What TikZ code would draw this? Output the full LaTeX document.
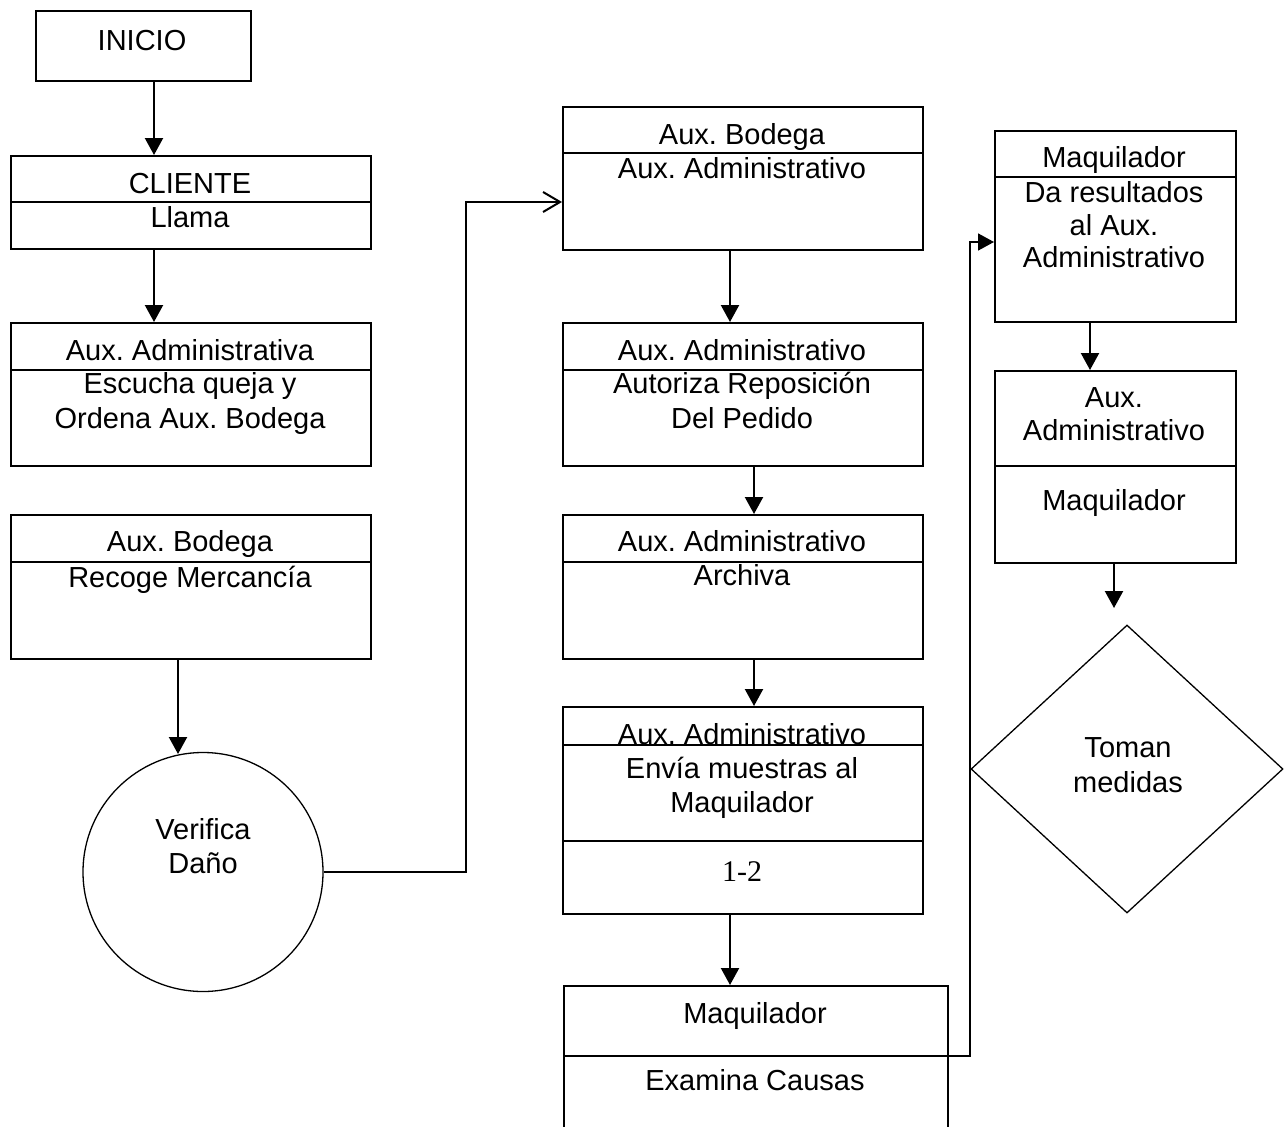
\documentclass[tikz,border=0pt]{standalone}
\usepackage{fontspec}
\setmainfont{Liberation Sans}
\newfontfamily\serifnum{Liberation Serif}
\usetikzlibrary{arrows.meta,shapes.geometric}
\frenchspacing
\begin{document}
\begin{tikzpicture}[x=1pt,y=-1pt,
  box/.style={draw, line width=1.6pt, rectangle, inner sep=0pt, anchor=north west},
  divl/.style={line width=1.6pt},
  txt/.style={anchor=base, inner sep=0pt, font=\fontsize{29}{34.5}\selectfont},
  arr/.style={line width=2.2pt, -{Triangle[width=18pt,length=17pt]}},
  conn/.style={line width=1.6pt},
  openarr/.style={line width=1.8pt, -{Straight Barb[length=17pt,width=20pt,line width=2pt]}}
]
\clip (0,0) rectangle (1285,1127);
\fill[white] (0,0) rectangle (1285,1127);

% ---------- left column ----------
\node[box, minimum width=215pt, minimum height=70pt] (ini) at (35,10) {};
\node[txt] (tini) at (142,50) {INICIO};

\node[box, minimum width=360pt, minimum height=93pt] (cli) at (10,155) {};
\draw[divl] (cli.west |- 0,202) -- (cli.east |- 0,202);
\node[txt] (tcli1) at (190,193) {CLIENTE};
\node[txt] (tcli2) at (190,227) {Llama};

\node[box, minimum width=360pt, minimum height=143pt] (aad) at (10,322) {};
\draw[divl] (aad.west |- 0,370) -- (aad.east |- 0,370);
\node[txt] (taad1) at (190,360) {Aux. Administrativa};
\node[txt] (taad2) at (190,393) {Escucha queja y};
\node[txt] (taad3) at (190,428) {Ordena Aux. Bodega};

\node[box, minimum width=360pt, minimum height=144pt] (abl) at (10,514) {};
\draw[divl] (abl.west |- 0,562) -- (abl.east |- 0,562);
\node[txt] (tabl1) at (190,551) {Aux. Bodega};
\node[txt] (tabl2) at (190,587) {Recoge Mercancía};

\node[draw, ellipse, line width=1.3pt, inner sep=0pt, minimum width=240pt, minimum height=239pt] (vd) at (203,872) {};
\node[txt] (tvd1) at (203,839) {Verifica};
\node[txt] (tvd2) at (203,873) {Daño};

\draw[arr] (ini.south -| 154,0) -- (cli.north -| 154,0);
\draw[arr] (cli.south -| 154,0) -- (aad.north -| 154,0);
\draw[arr] (abl.south -| 178,0) -- (178,754);

% ---------- middle column ----------
\node[box, minimum width=360pt, minimum height=143pt] (m1) at (562,106) {};
\draw[divl] (m1.west |- 0,153) -- (m1.east |- 0,153);
\node[txt] (tm11) at (742,144) {Aux. Bodega};
\node[txt] (tm12) at (742,178) {Aux. Administrativo};

\node[box, minimum width=360pt, minimum height=143pt] (m2) at (562,322) {};
\draw[divl] (m2.west |- 0,370) -- (m2.east |- 0,370);
\node[txt] (tm21) at (742,360) {Aux. Administrativo};
\node[txt] (tm22) at (742,393) {Autoriza Reposición};
\node[txt] (tm23) at (742,428) {Del Pedido};

\node[box, minimum width=360pt, minimum height=144pt] (m3) at (562,514) {};
\draw[divl] (m3.west |- 0,562) -- (m3.east |- 0,562);
\node[txt] (tm31) at (742,551) {Aux. Administrativo};
\node[txt] (tm32) at (742,585) {Archiva};

\node[box, minimum width=360pt, minimum height=207pt] (m4) at (562,706) {};
\node[txt] (tm41) at (742,744) {Aux. Administrativo};
\draw[divl] (m4.west |- 0,745) -- (m4.east |- 0,745);
\draw[divl] (m4.west |- 0,841) -- (m4.east |- 0,841);
\node[txt] (tm42) at (742,778) {Envía muestras al};
\node[txt] (tm43) at (742,812) {Maquilador};
\node[anchor=base, inner sep=0pt, font=\serifnum\fontsize{30}{34}\selectfont] (tm44) at (742,881) {1-2};

\node[box, minimum width=384pt, minimum height=180pt] (m5) at (563,985) {};
\draw[divl] (m5.west |- 0,1056) -- (m5.east |- 0,1056);
\node[txt] (tm51) at (755,1023) {Maquilador};
\node[txt] (tm52) at (755,1090) {Examina Causas};

\draw[arr] (m1.south -| 730,0) -- (m2.north -| 730,0);
\draw[arr] (m2.south -| 754,0) -- (m3.north -| 754,0);
\draw[arr] (m3.south -| 754,0) -- (m4.north -| 754,0);
\draw[arr] (m4.south -| 730,0) -- (m5.north -| 730,0);

% ---------- right column ----------
\node[box, minimum width=241pt, minimum height=191pt] (r1) at (994,130) {};
\draw[divl] (r1.west |- 0,177) -- (r1.east |- 0,177);
\node[txt] (tr11) at (1114,167) {Maquilador};
\node[txt] (tr12) at (1114,202) {Da resultados};
\node[txt] (tr13) at (1114,235) {al Aux.};
\node[txt] (tr14) at (1114,267) {Administrativo};

\node[box, minimum width=241pt, minimum height=192pt] (r2) at (994,370) {};
\draw[divl] (r2.west |- 0,466) -- (r2.east |- 0,466);
\node[txt] (tr21) at (1114,407) {Aux.};
\node[txt] (tr22) at (1114,440) {Administrativo};
\node[txt] (tr23) at (1114,510) {Maquilador};

\node[draw, diamond, line width=1.3pt, inner sep=0pt, minimum width=312pt, minimum height=288pt] (dm) at (1127,769) {};
\node[txt] (tdm1) at (1128,757) {Toman};
\node[txt] (tdm2) at (1128,792) {medidas};

\draw[arr] (r1.south -| 1090,0) -- (r2.north -| 1090,0);
\coordinate (dmend) at (1114,608);
\draw[arr] (r2.south -| 1114,0) -- (dmend);

% ---------- long connectors ----------
\draw[openarr] (vd.east) -- (466,872) -- (466,202) -- (m1.west |- 0,202);

\coordinate (exstart) at (875,1056);
\draw[line width=2.2pt] (exstart) -- (m5.east |- 0,1056);
\draw[conn, -{Triangle[width=17pt,length=16pt]}] (exstart) -- (970,1056) -- (970,242) -- (r1.west |- 0,242);
\end{tikzpicture}
\end{document}
